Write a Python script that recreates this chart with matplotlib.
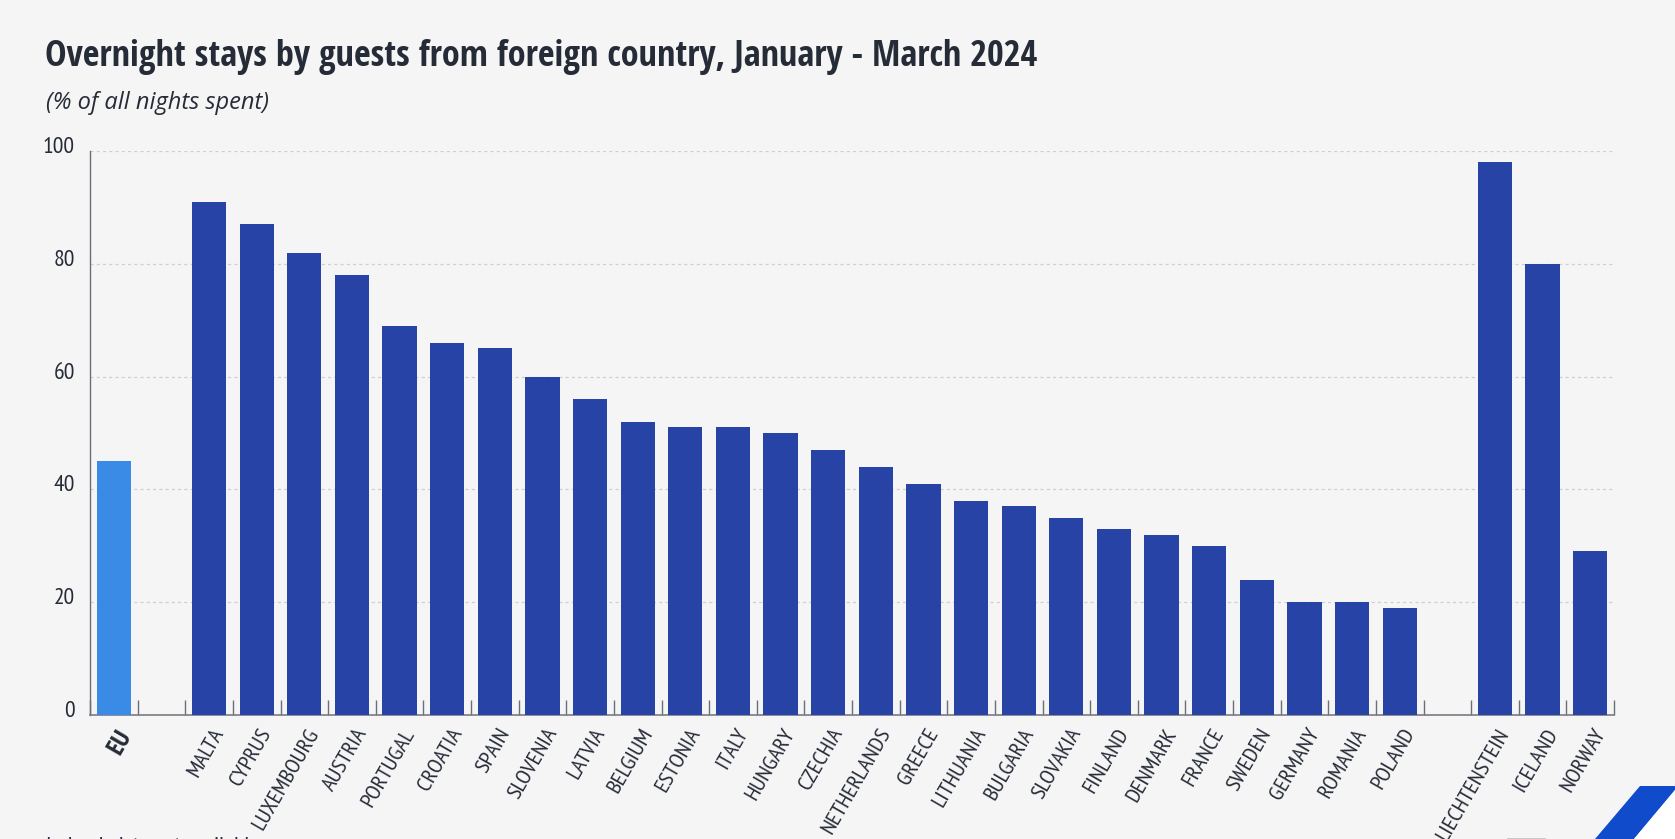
import matplotlib
matplotlib.use("Agg")
import matplotlib.pyplot as plt
from matplotlib.patches import Polygon, Rectangle

eu_label = ["EU"]
eu_values = [45]
member_labels = ["MALTA", "CYPRUS", "LUXEMBOURG", "AUSTRIA", "PORTUGAL", "CROATIA", "SPAIN",
                 "SLOVENIA", "LATVIA", "BELGIUM", "ESTONIA", "ITALY", "HUNGARY", "CZECHIA",
                 "NETHERLANDS", "GREECE", "LITHUANIA", "BULGARIA", "SLOVAKIA", "FINLAND",
                 "DENMARK", "FRANCE", "SWEDEN", "GERMANY", "ROMANIA", "POLAND"]
member_values = [91, 87, 82, 78, 69, 66, 65, 60, 56, 52, 51, 51, 50, 47, 44, 41, 38, 37, 35,
                 33, 32, 30, 24, 20, 20, 19]
efta_labels = ["LIECHTENSTEIN", "ICELAND", "NORWAY"]
efta_values = [98, 80, 29]
y_ticks = [0, 20, 40, 60, 80, 100]

BG = "#F5F5F5"
DARK = "#262B38"
COND_BOLD = ["Open Sans Condensed", "PT Sans Narrow", "Liberation Sans"]
COND = ["PT Sans Narrow", "Open Sans Condensed", "Liberation Sans"]
W, H = 1675, 839
fig = plt.figure(figsize=(W / 100, H / 100), dpi=100, facecolor=BG)
ax = fig.add_axes([90 / W, 1 - 715 / H, (1614 - 90) / W, (715 - 151) / H], facecolor=BG)

labels = eu_label + [""] + member_labels + [""] + efta_labels
values = eu_values + [None] + member_values + [None] + efta_values
for i, (lab, v) in enumerate(zip(labels, values)):
    if v is None:
        continue
    ax.bar(i + 0.5, v, width=0.72, color="#3A8BE6" if lab == "EU" else "#2743A6", zorder=3)

n = len(labels)
ax.set_xlim(0, n)
ax.set_ylim(0, 100)
ax.set_yticks(y_ticks)
ax.grid(axis="y", color="#CFCFCF", lw=0.9, ls=(0, (2.5, 2.5)), zorder=0)
ax.set_axisbelow(True)
for s in ("top", "right"):
    ax.spines[s].set_visible(False)
ax.spines["left"].set_color("#6B6E78")
ax.spines["bottom"].set_color("#7A7C84")
ax.spines["left"].set_linewidth(1.0)
ax.spines["bottom"].set_linewidth(1.2)
ax.tick_params(axis="y", length=0, labelleft=False)
ax.set_xticks(range(0, n + 1))
ax.tick_params(axis="x", direction="in", length=10.5, width=1, color="#6B6E78", labelbottom=False)

for v in y_ticks:
    ax.annotate(str(v), (0, v), xytext=(-15, -2), textcoords="offset pixels", ha="right",
                va="baseline", fontsize=17, color=DARK, family=COND, annotation_clip=False)

for i, lab in enumerate(labels):
    if not lab:
        continue
    is_eu = lab == "EU"
    ax.annotate(lab, (i + 0.5, 0), xycoords=("data", "axes fraction"), xytext=(2, -10),
                textcoords="offset pixels", rotation=60, rotation_mode="anchor",
                ha="right", va="top", fontsize=18 if is_eu else 16.2,
                color=DARK, family=COND_BOLD if is_eu else COND,
                fontweight="bold" if is_eu else "normal")

fig.text(45 / W, 1 - 66 / H, "Overnight stays by guests from foreign country, January - March 2024",
         fontsize=26.1, fontweight="bold", family=COND_BOLD, color=DARK, va="baseline")
fig.text(46 / W, 1 - 109 / H, "(% of all nights spent)", fontsize=17, style="italic",
         family="Open Sans", color=DARK, va="baseline")
fig.text(46 / W, 1 - 853 / H, "Ireland: data not available", fontsize=17, family=COND, color=DARK,
         va="baseline")

ovr = fig.add_axes([0, 0, 1, 1], facecolor="none")
ovr.set_xlim(0, W)
ovr.set_ylim(H, 0)
ovr.axis("off")
ovr.add_patch(Polygon([(1595, 839), (1640, 786), (1675, 786), (1675, 790), (1634, 839)], color="#0F4BCB", lw=0))
ovr.add_patch(Polygon([(1634, 839), (1675, 790), (1675, 839)], color="white", lw=0))
ovr.add_patch(Rectangle((1507, 838), 39, 1, color="#C9C9C9", lw=0))
fig.savefig("out.png", dpi=100, facecolor=BG)
